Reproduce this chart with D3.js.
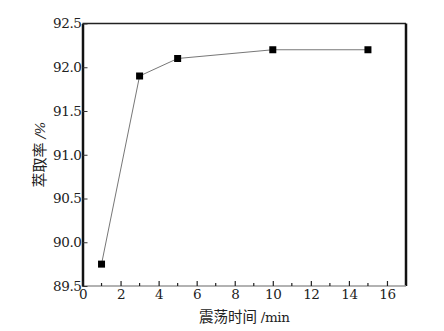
<!DOCTYPE html>
<html>
<head>
<meta charset="utf-8">
<script src="https://cdn.jsdelivr.net/npm/d3@7"></script>
<style>
  body { margin: 0; background: #fff; }
  svg text.serif, svg tspan.serif { font-family: "DejaVu Serif", serif; letter-spacing: -0.4px; }
</style>
</head>
<body>
<div id="chart"></div>
<script>
// data
const shakeTimes = [1, 3, 5, 10, 15];          // min
const extractRates = [89.75, 91.9, 92.1, 92.2, 92.2]; // %
const xTicks = [0, 2, 4, 6, 8, 10, 12, 14, 16];
const xMinorTicks = [1, 3, 5, 7, 9, 11, 13, 15];
const yTicks = [89.5, 90.0, 90.5, 91.0, 91.5, 92.0, 92.5];

const CJK = "'Noto Sans CJK SC', sans-serif";

const width = 444, height = 331;
const margin = { top: 23.5, right: 38, bottom: 45, left: 82.5 };

const svg = d3.select("#chart").append("svg").attr("width", width).attr("height", height);

const x = d3.scaleLinear().domain([0, 17]).range([margin.left, width - margin.right]);
const y = d3.scaleLinear().domain([89.5, 92.5]).range([height - margin.bottom, margin.top]);

const x0 = x.range()[0], x1 = x.range()[1];
const yb = y.range()[0], yt = y.range()[1];

// frame
svg.append("line").attr("x1", x0).attr("x2", x1).attr("y1", yt).attr("y2", yt)
  .attr("stroke", "#222").attr("stroke-width", 1.5);
svg.append("line").attr("x1", x1).attr("x2", x1).attr("y1", yt).attr("y2", yb)
  .attr("stroke", "#111").attr("stroke-width", 2.5);
svg.append("line").attr("x1", x0).attr("x2", x1).attr("y1", yb).attr("y2", yb)
  .attr("stroke", "#999").attr("stroke-width", 1.5);

// y axis (ticks inside)
const yAxis = svg.append("g").attr("transform", `translate(${x0},0)`)
  .call(d3.axisLeft(y).tickValues(yTicks).tickFormat(d3.format(".1f")).tickSizeInner(-5).tickSizeOuter(0).tickPadding(1));
yAxis.attr("font-size", 13.5);
yAxis.select(".domain").attr("stroke", "#111").attr("stroke-width", 2.5);
yAxis.selectAll(".tick line").attr("stroke", "#333");
yAxis.selectAll("text").attr("class", "serif").attr("fill", "#222");

// x axis (ticks inside, minor ticks)
const xAxis = svg.append("g").attr("transform", `translate(0,${yb})`)
  .call(d3.axisBottom(x).tickValues(xTicks).tickSizeInner(-5).tickSizeOuter(0).tickPadding(3));
xAxis.attr("font-size", 13.5);
xAxis.select(".domain").remove();
xAxis.selectAll(".tick line").attr("stroke", "#222").attr("stroke-width", 1.2);
xAxis.selectAll("text").attr("class", "serif").attr("fill", "#222");

svg.append("g").selectAll("line").data(xMinorTicks).join("line")
  .attr("x1", d => x(d)).attr("x2", d => x(d))
  .attr("y1", yb).attr("y2", yb - 3)
  .attr("stroke", "#222").attr("stroke-width", 1.2);

// series
const points = shakeTimes.map((t, i) => [t, extractRates[i]]);
svg.append("path").datum(points)
  .attr("fill", "none").attr("stroke", "#777").attr("stroke-width", 1)
  .attr("d", d3.line().x(d => x(d[0])).y(d => y(d[1])));

svg.append("g").selectAll("rect").data(points).join("rect")
  .attr("x", d => x(d[0]) - 3.5).attr("y", d => y(d[1]) - 3.5)
  .attr("width", 7).attr("height", 7).attr("fill", "#000");

// axis titles
const xTitle = svg.append("text").attr("x", (x0 + x1) / 2).attr("y", 322)
  .attr("text-anchor", "middle").attr("fill", "#222").attr("font-size", 13.5);
xTitle.append("tspan").attr("font-family", CJK).attr("font-size", 14.5).text("震荡时间");
xTitle.append("tspan").attr("class", "serif").text(" /min");

const yTitle = svg.append("text").attr("transform", `translate(45,${(yt + yb) / 2}) rotate(-90)`)
  .attr("text-anchor", "middle").attr("fill", "#222").attr("font-size", 13.5);
yTitle.append("tspan").attr("font-family", CJK).attr("font-size", 15).text("萃取率");
yTitle.append("tspan").attr("class", "serif").attr("font-style", "italic").text(" /%");
</script>
</body>
</html>
